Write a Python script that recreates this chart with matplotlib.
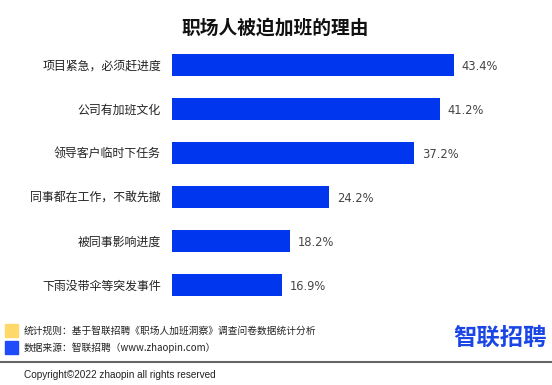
import matplotlib.pyplot as plt
from matplotlib.patches import Rectangle
from matplotlib.lines import Line2D

plt.rcParams['font.family'] = ['Noto Sans CJK SC', 'DejaVu Sans']

# 数据
reasons = ['项目紧急，必须赶进度', '公司有加班文化', '领导客户临时下任务',
           '同事都在工作，不敢先撤', '被同事影响进度', '下雨没带伞等突发事件']
values = [43.4, 41.2, 37.2, 24.2, 18.2, 16.9]

W, H = 552, 385
fig = plt.figure(figsize=(W / 100, H / 100), dpi=100)

# 条形图区域（像素换算）
ax = fig.add_axes([172 / W, 78 / H, 380 / W, 264 / H])
y = list(range(len(values)))
ax.barh(y, values, height=0.5, color='#0037EE')
ax.set_ylim(len(values) - 0.5, -0.5)
ax.set_xlim(0, 380 / 6.5)
ax.set_yticks(y)
ax.set_yticklabels(reasons, fontsize=8.6, color='#222222')
ax.tick_params(axis='y', length=0, pad=8)
ax.set_xticks([])
for s in ax.spines.values():
    s.set_visible(False)

for yi, v in zip(y, values):
    ax.text(v + 1.2, yi, f'{v}%', va='center_baseline', ha='left', fontsize=8.3,
            color='#444444', family='DejaVu Sans')

# 标题
fig.text(275 / W, 1 - 28 / H, '职场人被迫加班的理由', ha='center', va='center',
         fontsize=13.5, fontweight='bold', color='#111111')

# 图例说明
fig.patches.append(Rectangle((5 / W, 1 - 337 / H), 13 / W, 13 / H,
                             transform=fig.transFigure, color='#FFD86A'))
fig.patches.append(Rectangle((5 / W, 1 - 354 / H), 13 / W, 13 / H,
                             transform=fig.transFigure, color='#1F4BFA'))
fig.text(24 / W, 1 - 331 / H, '统计规则：基于智联招聘《职场人加班洞察》调查问卷数据统计分析',
         fontsize=7.0, va='center', ha='left', color='#222222')
fig.text(24 / W, 1 - 348 / H, '数据来源：智联招聘（www.zhaopin.com）',
         fontsize=7.0, va='center', ha='left', color='#222222')

# 标志
fig.text(547 / W, 1 - 338 / H, '智联招聘', fontsize=16.8, fontweight='bold',
         color='#1A46E6', ha='right', va='center')

# 分隔线与版权
fig.lines.append(Line2D([0, 1], [1 - 362 / H, 1 - 362 / H], transform=fig.transFigure,
                        color='#666666', linewidth=1.5))
fig.text(24 / W, 1 - 375 / H, 'Copyright©2022 zhaopin all rights reserved',
         fontsize=7.2, family='Liberation Sans', va='center', ha='left', color='#222222')

fig.savefig('out.png', dpi=100)
